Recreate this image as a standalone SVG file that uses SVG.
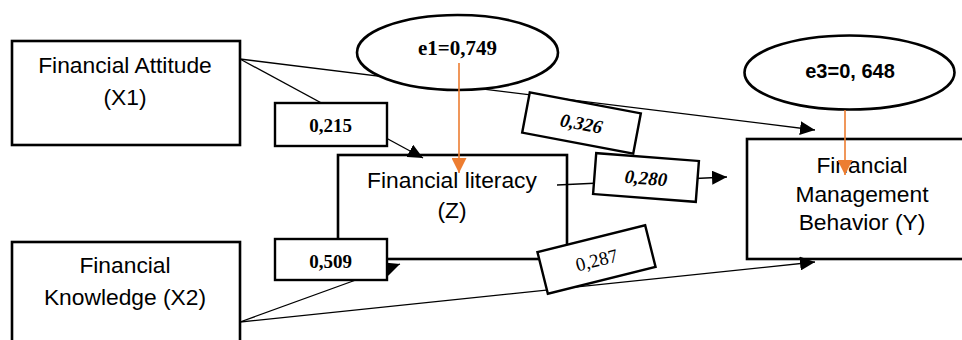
<svg xmlns="http://www.w3.org/2000/svg" width="962" height="340" viewBox="0 0 962 340">
<defs>
<style>
.node{fill:#fff;stroke:#000;stroke-width:2.6}
.lbl{fill:#fff;stroke:#000;stroke-width:2.4}
.ell{fill:#fff;stroke:#000;stroke-width:2.6}
.t{font-family:"Liberation Sans",Arial,sans-serif;font-size:22.8px;fill:#000;text-anchor:middle}
.n{font-family:"Liberation Serif","Times New Roman",serif;font-size:19px;font-weight:bold;fill:#000;text-anchor:middle}
.ni{font-style:italic}
.nr{font-weight:normal}
.e{font-family:"Liberation Serif","Times New Roman",serif;font-size:21px;font-weight:bold;text-anchor:middle}
.e3{font-family:"Liberation Sans",Arial,sans-serif;font-size:20px;font-weight:bold;text-anchor:middle}
.c{fill:none;stroke:#000;stroke-width:1.3}
.o{fill:none;stroke:#ED7D31;stroke-width:1.6}
</style>
<marker id="ah" markerUnits="userSpaceOnUse" markerWidth="15" markerHeight="14" refX="15" refY="7" orient="auto"><path d="M0,0 L15,7 L0,14 z" fill="#000"/></marker>
<marker id="oh" markerUnits="userSpaceOnUse" markerWidth="15" markerHeight="15" refX="15" refY="7.5" orient="auto"><path d="M0,0 L15,7.5 L0,15 z" fill="#ED7D31"/></marker>
</defs>
<g id="fa"><rect class="node" x="12" y="41" width="228" height="104"/><text class="t" x="125" y="73">Financial Attitude</text><text class="t" x="125" y="105">(X1)</text></g>
<g id="fk"><rect class="node" x="12" y="242" width="228" height="110"/><text class="t" x="125" y="273">Financial</text><text class="t" x="125" y="305">Knowledge (X2)</text></g>
<g id="z"><rect class="node" x="338" y="155" width="229" height="104"/><text class="t" x="452" y="188">Financial literacy</text><text class="t" x="452" y="218">(Z)</text></g>
<g id="y"><rect class="node" x="747" y="139" width="230" height="120"/><text class="t" x="862" y="173">Financial</text><text class="t" x="862" y="202">Management</text><text class="t" x="862" y="230">Behavior (Y)</text></g>
<g id="connectors">
<line class="c" x1="240" y1="59" x2="423" y2="158" marker-end="url(#ah)"/>
<line class="c" x1="240" y1="59" x2="815" y2="130" marker-end="url(#ah)"/>
<line class="c" x1="240" y1="322" x2="400" y2="264" marker-end="url(#ah)"/>
<line class="c" x1="240" y1="322" x2="815" y2="262" marker-end="url(#ah)"/>
<line class="c" x1="557" y1="185" x2="727" y2="177" marker-end="url(#ah)"/>
</g>
<g id="l215"><rect class="lbl" x="275" y="103" width="112" height="43"/><text class="n" x="330.5" y="132">0,215</text></g>
<g id="l509"><rect class="lbl" x="275" y="239" width="112" height="41"/><text class="n" x="330.5" y="268">0,509</text></g>
<g id="l326" transform="translate(581.5,123) rotate(10.7)"><rect class="lbl" x="-56.5" y="-20.5" width="113" height="41"/><text class="n ni" x="0" y="7">0,326</text></g>
<g id="l280" transform="translate(646,177.5) rotate(4.4)"><rect class="lbl" x="-51.5" y="-20.5" width="103" height="41"/><text class="n ni" x="0" y="7">0,280</text></g>
<g id="l287" transform="translate(596.5,259.5) rotate(-14)"><rect class="lbl" x="-55.5" y="-21.5" width="111" height="43"/><text class="n nr" x="0" y="7">0,287</text></g>
<g id="e1"><ellipse class="ell" cx="457.5" cy="52.5" rx="100.5" ry="37.5"/><text class="e" x="457.5" y="55">e1=0,749</text></g>
<g id="e3g"><ellipse class="ell" cx="849.5" cy="72.5" rx="105" ry="37"/><text class="e3" x="850" y="78">e3=0, 648</text></g>
<g id="error-connectors">
<line class="o" x1="459" y1="63" x2="459" y2="173" marker-end="url(#oh)"/>
<line class="o" x1="845" y1="110" x2="845" y2="175" marker-end="url(#oh)"/>
</g>
</svg>
